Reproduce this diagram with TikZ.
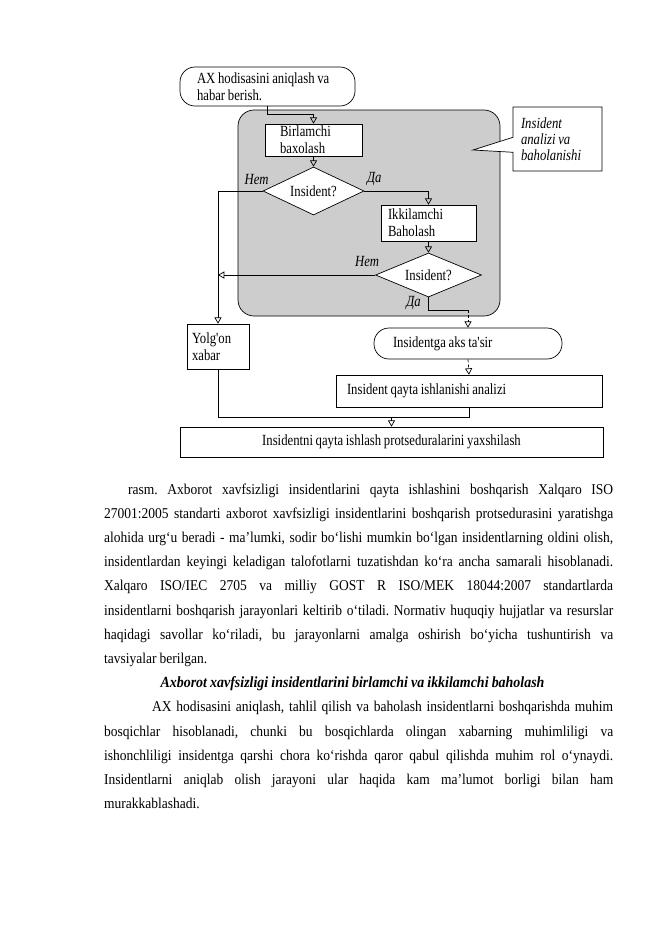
\documentclass[tikz,border=0pt]{standalone}
\usepackage{fontspec}
\usetikzlibrary{calc}
\usetikzlibrary{positioning}
\usetikzlibrary{arrows}
\usetikzlibrary{shapes}
\newfontfamily\diagfont[FakeStretch=0.82,WordSpace=0.85]{Liberation Serif}
\newfontfamily\bodyfont[FakeStretch=0.9,WordSpace=0.9]{Liberation Serif}
\definecolor{zonegray}{RGB}{205,205,205}
\frenchspacing

\begin{document}
\begin{tikzpicture}[x=1pt,y=-1pt,>=open triangle 60,
  box/.style={draw,rectangle,fill=white,line width=0.7pt,align=flush left,inner ysep=0pt,font=\diagfont\fontsize{15.5}{17}\selectfont},
  test/.style={draw,diamond,fill=white,line width=0.7pt,aspect=2.1,inner sep=0pt,font=\diagfont\fontsize{15.5}{17}\selectfont},
  lbl/.style={inner sep=0pt,font=\diagfont\itshape\fontsize{15.5}{17}\selectfont},
  line/.style={line width=0.7pt},
  para/.style={anchor=base west,inner sep=0pt,font=\bodyfont\fontsize{15}{18}\selectfont}]

\useasboundingbox (0,0) rectangle (661,935);

% analysis zone
\draw[fill=zonegray,line width=0.7pt,rounded corners=16pt] (238,110) rectangle (500,316);

\node[box,rounded corners=15pt,minimum height=39pt,text width=141pt,inner xsep=17pt] (detect) at (267.5,86.5) {AX hodisasini aniqlash va\\habar berish.};
\node[box,minimum height=32pt,text width=67pt,inner xsep=15pt] (firsteval) at (313.5,140) {Birlamchi\\baxolash};
\node[test,minimum width=101pt,minimum height=48pt] (check1) at (313.5,191) {Insident?};
\node[box,minimum height=36pt,text width=81pt,inner xsep=7pt] (secondeval) at (428.5,223) {Ikkilamchi\\Baholash};
\node[test,minimum width=106pt,minimum height=44pt] (check2) at (428.5,275) {Insident?};
\node[box,minimum height=45pt,text width=52pt,inner xsep=5pt] (falsealarm) at (218,346.5) {Yolg'on\\xabar};
\node[box,rounded corners=15pt,minimum height=31pt,text width=150pt,inner xsep=19pt] (response) at (468,343.5) {Insidentga aks ta'sir};
\node[box,minimum height=32pt,text width=244pt,inner xsep=11pt] (review) at (469,391) {Insident qayta ishlanishi analizi};
\node[box,align=center,minimum width=423pt,minimum height=30pt] (improve) at (391.5,442) {Insidentni qayta ishlash protseduralarini yaxshilash};

\node[box,rectangle callout,callout absolute pointer={(473,150)},callout pointer width=15pt,minimum height=64pt,text width=73pt,inner xsep=8pt,font=\diagfont\itshape\fontsize{15.5}{16}\selectfont] (note) at (557.5,139) {Insident\\analizi va\\baholanishi};

\node[lbl] (no1) at ($(check1.west)+(-6,-12)$) {Нет};
\node[lbl] (yes1) at ($(check1.east)+(10,-12)$) {Да};
\node[lbl] (no2) at ($(check2.west)+(-8,-14)$) {Нет};
\node[lbl] (yes2) at ($(check2.south)+(-15,6)$) {Да};

\draw[line,->] (detect.south) -- ++(0,8) -| (firsteval.north);
\draw[line,->] (firsteval.south) -- (check1.north);
\draw[line,->] (check1.west) -| (falsealarm.north);
\draw[line,->] (check1.east) -| (secondeval.north);
\draw[line,->] (secondeval.south) -- (check2.north);
\draw[line,->] (check2.west) -- (check2.west -| falsealarm.north);
\draw[line] (check2.south) -- ++(0,13) coordinate (yesturn) -- (yesturn -| response.north) coordinate (yesdrop);
\draw[line,densely dashed,->] (yesdrop) -- (response.north);
\draw[line,densely dashed,->] (response.south) -- (review.north);
\draw[line] (review.south) -- ++(0,10) coordinate (merge) -| (falsealarm.south);
\draw[line,->] (merge -| improve.north) -- (improve.north);

% text below the figure
\node[para] (txt1) at (128,494) {\makebox[485pt][s]{rasm. Axborot xavfsizligi insidentlarini qayta ishlashini boshqarish Xalqaro ISO}};
\node[para] (txt2) at (104,518.2) {\makebox[509pt][s]{27001:2005 standarti axborot xavfsizligi insidentlarini boshqarish protsedurasini yaratishga}};
\node[para] (txt3) at (104,542.4) {\makebox[509pt][s]{alohida urg‘u beradi - ma’lumki, sodir bo‘lishi mumkin bo‘lgan insidentlarning oldini olish,}};
\node[para] (txt4) at (104,566.6) {\makebox[509pt][s]{insidentlardan keyingi keladigan talofotlarni tuzatishdan ko‘ra ancha samarali hisoblanadi.}};
\node[para] (txt5) at (104,590.8) {\makebox[509pt][s]{Xalqaro ISO/IEC 2705 va milliy GOST R ISO/MEK 18044:2007 standartlarda}};
\node[para] (txt6) at (104,615) {\makebox[509pt][s]{insidentlarni boshqarish jarayonlari keltirib o‘tiladi. Normativ huquqiy hujjatlar va resurslar}};
\node[para] (txt7) at (104,639.2) {\makebox[509pt][s]{haqidagi savollar ko‘riladi, bu jarayonlarni amalga oshirish bo‘yicha tushuntirish va}};
\node[para] (txt8) at (104,663.4) {tavsiyalar berilgan.};
\node[para,anchor=base,font=\bodyfont\bfseries\itshape\fontsize{15.5}{18}\selectfont] (head) at (352.5,687.6) {Axborot xavfsizligi insidentlarini birlamchi va ikkilamchi baholash};
\node[para] (txt10) at (152,711.8) {\makebox[461pt][s]{AX hodisasini aniqlash, tahlil qilish va baholash insidentlarni boshqarishda muhim}};
\node[para] (txt11) at (104,736) {\makebox[509pt][s]{bosqichlar hisoblanadi, chunki bu bosqichlarda olingan xabarning muhimliligi va}};
\node[para] (txt12) at (104,760.2) {\makebox[509pt][s]{ishonchliligi insidentga qarshi chora ko‘rishda qaror qabul qilishda muhim rol o‘ynaydi.}};
\node[para] (txt13) at (104,784.4) {\makebox[509pt][s]{Insidentlarni aniqlab olish jarayoni ular haqida kam ma’lumot borligi bilan ham}};
\node[para] (txt14) at (104,808.6) {murakkablashadi.};
\end{tikzpicture}
\end{document}
